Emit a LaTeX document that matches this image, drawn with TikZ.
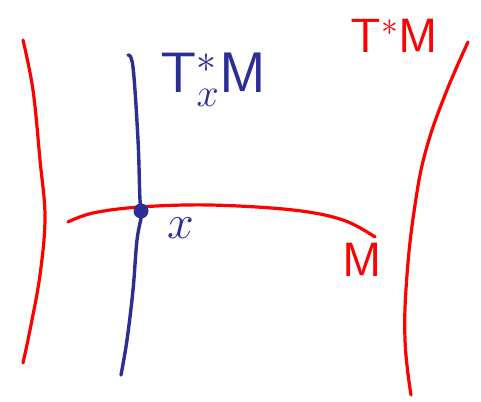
\RequirePackage{fix-cm}
\documentclass[tikz,border=0pt]{standalone}
\usepackage{amsmath,amssymb}
\usepackage{tikz}
\usetikzlibrary{positioning}
\usepackage{xcolor}
\definecolor{penred}{RGB}{255,0,0}
\definecolor{penblue}{RGB}{45,45,150}

\begin{document}
\begin{tikzpicture}[
    x=1pt, y=-1pt,
    redpen/.style={draw=penred, line width=3.2pt, line cap=round, line join=round},
    bluepen/.style={draw=penblue, line width=3.4pt, line cap=round, line join=round},
    bigtext/.style={font=\fontsize{48}{54}\selectfont, inner sep=0pt}
]
    \useasboundingbox (0,0) rectangle (481,401);

    % cotangent bundle T*M: two red sheets and the base M
    \draw[redpen] plot[smooth, tension=0.6] coordinates {(23,40) (33,90) (40,160) (45,217) (40,275) (30,330) (23,363)};
    \draw[redpen] plot[smooth, tension=0.7] coordinates {(468,42) (445,95) (426,150) (415,205) (407,275) (405,340) (411,395)};
    \draw[redpen] plot[smooth, tension=0.6] coordinates {(68,222) (93,213) (140,207) (210,205) (293,210) (343,220) (375,237)};

    % fibre over x
    \draw[bluepen] plot[smooth, tension=0.6] coordinates {(128,55) (133,67) (138,140) (140,200) (142,212) (137,240) (133,290) (127,340) (121,375)};
    \node[circle, fill=penblue, minimum size=15pt, inner sep=0pt] (pt) at (141,211) {};

    \node[bigtext, text=penblue, font=\fontsize{57}{63}\selectfont] (fibre) at (213,80) {$\mathsf{T}^{*}_{x}\mathsf{M}$};
    \node[font=\fontsize{48}{54}\selectfont, text=penblue, inner sep=0pt] (xlab) at (181,228) {$x$};
    \node[bigtext, text=penred] (base) at (362,260) {$\mathsf{M}$};
    \node[bigtext, text=penred] (bundle) at (394,36) {$\mathsf{T}^{*}\mathsf{M}$};
\end{tikzpicture}
\end{document}
